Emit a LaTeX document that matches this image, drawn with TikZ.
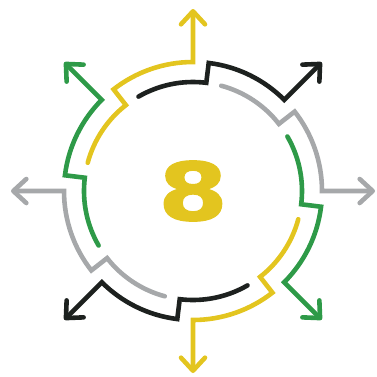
\documentclass[tikz,border=0pt]{standalone}
\usepackage{fontspec}
\newfontfamily\digitfont[FakeBold=1.5]{DejaVu Sans}
\usetikzlibrary{arrows.meta}
\definecolor{cyell}{HTML}{E3C51F}
\definecolor{cgreen}{HTML}{2E9A48}
\definecolor{cblack}{HTML}{1D211F}
\definecolor{cgray}{HTML}{A6A8AA}
\tikzset{
  seg/.style={line width=4.6pt, line cap=round, -{Straight Barb[length=13pt,width=24pt,round]}},
  digit/.style={font=\digitfont\bfseries\fontsize{80}{80}\selectfont, text=cyell, inner sep=0pt, xscale=1.25},
}

\begin{document}
\begin{tikzpicture}[x=1pt,y=1pt]
\useasboundingbox (-193,-185) rectangle (184,191);
% one stepped arc per direction, ending in an arrow
\foreach \a/\col in {0/cgray,45/cblack,90/cyell,135/cgreen,180/cgray,225/cblack,270/cyell,315/cgreen}{
  \draw[seg, draw=\col] (\a+75:109) arc[start angle=\a+75, end angle=\a+38, radius=109]
    -- (\a+38:129) arc[start angle=\a+38, end angle=\a, radius=129] -- (\a:182);
}
\node[digit] (eight) at (0,0) {8};
\end{tikzpicture}
\end{document}
